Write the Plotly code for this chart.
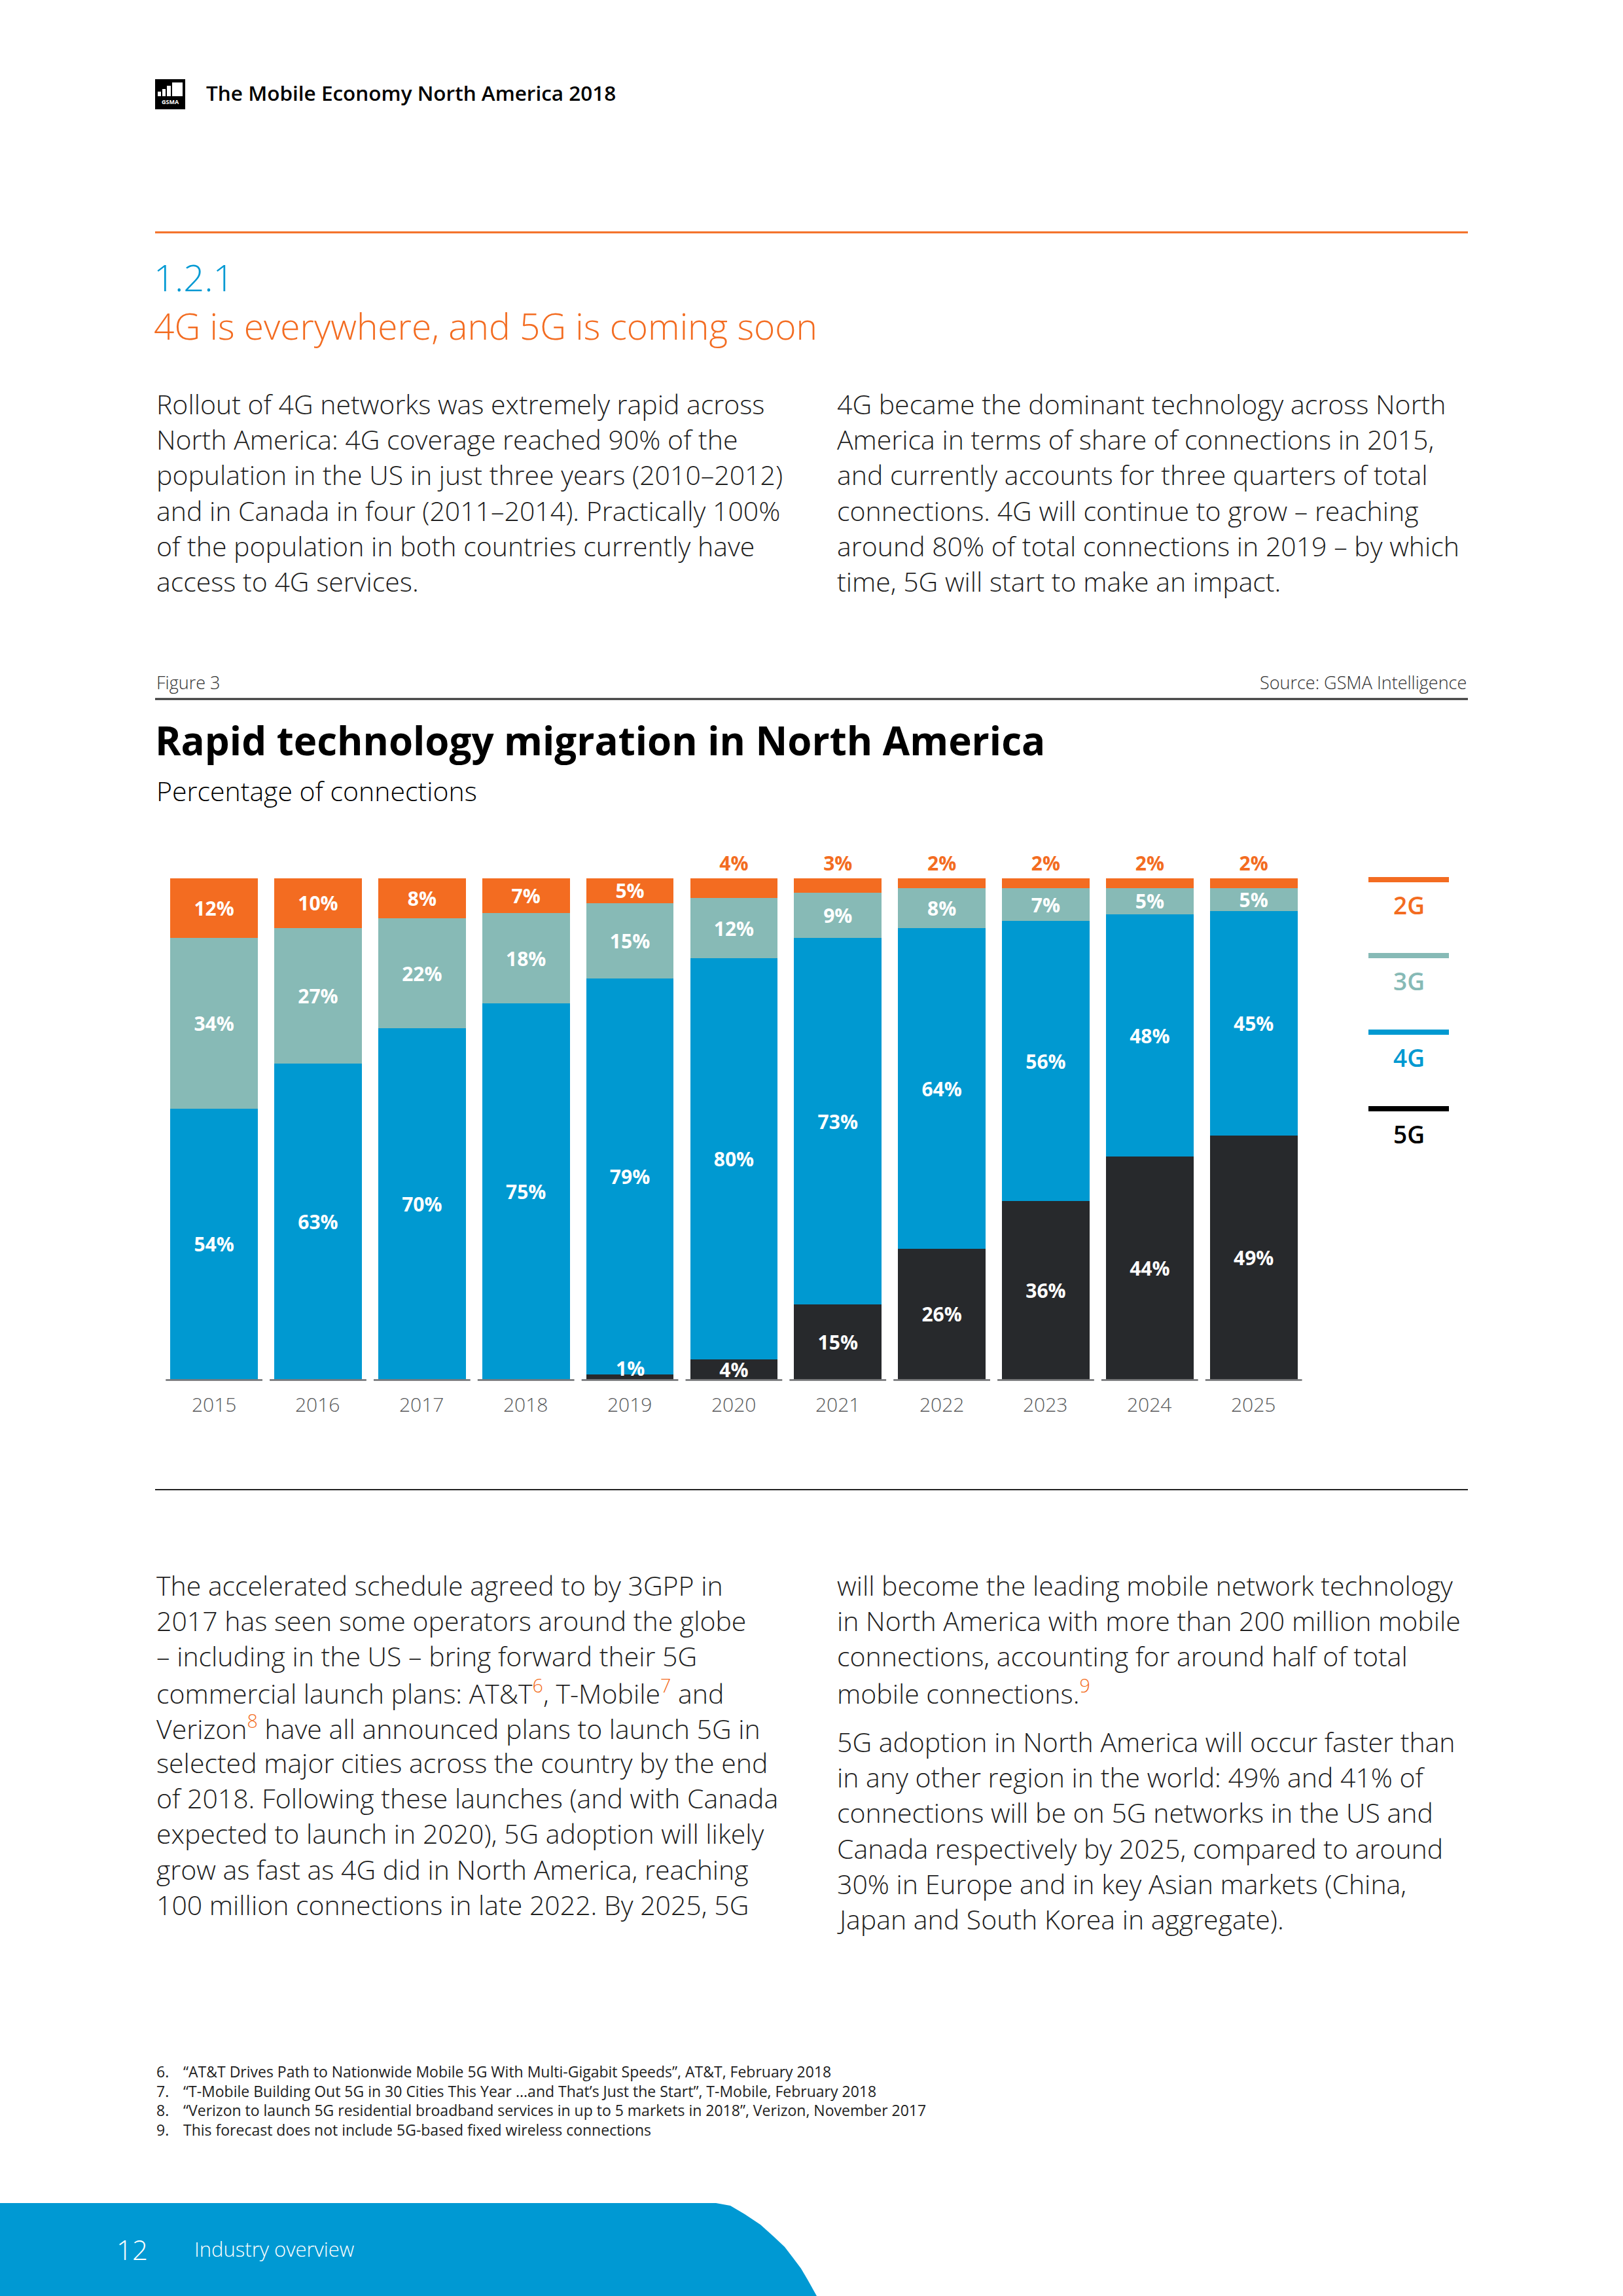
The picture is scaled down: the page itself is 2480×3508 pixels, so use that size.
import plotly.graph_objects as go

W, H = 2480, 3508

# ---------------- data ----------------
years = ["2015", "2016", "2017", "2018", "2019", "2020", "2021", "2022", "2023", "2024", "2025"]
share_2g = [12, 10, 8, 7, 5, 4, 3, 2, 2, 2, 2]
share_3g = [34, 27, 22, 18, 15, 12, 9, 8, 6.6, 5.2, 4.6]
share_4g = [54, 63, 70, 75, 79, 80, 73, 64, 55.8, 48.4, 44.8]
share_5g = [0, 0, 0, 0, 1, 4, 15, 26, 35.6, 44.4, 48.6]
series_names = ["2G", "3G", "4G", "5G"]
bar_colors = ["#F36C21", "#87BAB6", "#0099D1", "#27292C"]
legend_colors = ["#F36C21", "#87BAB6", "#0099D1", "#000000"]

FONT = "Open Sans"


def px_x(x):
    return x / W


def px_y(y):
    return 1 - y / H


fig = go.Figure()

series = [share_5g, share_4g, share_3g, share_2g]
names = ["5G", "4G", "3G", "2G"]
cols = [bar_colors[3], bar_colors[2], bar_colors[1], bar_colors[0]]

for vals, name, col in zip(series, names, cols):
    if name == "2G":
        text = [f"{v:.0f}%" for v in vals]
        pos = ["inside" if v >= 5 else "outside" for v in vals]
    elif name == "5G":
        text = [f"{v:.0f}%" if v >= 3 else "" for v in vals]
        pos = "inside"
    else:
        text = [f"{v:.0f}%" if v > 0 else "" for v in vals]
        pos = "inside"
    fig.add_trace(go.Bar(
        x=years, y=vals, name=name, marker=dict(color=col, line=dict(width=0)),
        text=text, textposition=pos, insidetextanchor="middle", textangle=0,
        constraintext="none", cliponaxis=False,
        insidetextfont=dict(family=FONT, size=30, color="white", weight=700),
        outsidetextfont=dict(family=FONT, size=30, color=bar_colors[0], weight=700),
        showlegend=False, hoverinfo="skip",
    ))

annotations = []
shapes = []

# small 5G labels sitting on the baseline (category axis -> serial index)
for i, v in enumerate(share_5g):
    if 0 < v < 3:
        annotations.append(dict(x=i, y=0, xref="x", yref="y", yanchor="bottom",
                                text=f"{v:.0f}%", showarrow=False, yshift=-5,
                                font=dict(family=FONT, size=30, color="white", weight=700)))

# year labels and baseline segments
for i, yr in enumerate(years):
    annotations.append(dict(x=i, y=px_y(2145), xref="x", yref="paper", yanchor="middle",
                            text=yr, showarrow=False,
                            font=dict(family=FONT, size=30, color="#58595B", weight=300)))
    shapes.append(dict(type="line", xref="x", yref="paper", x0=i - 0.465, x1=i + 0.465,
                       y0=px_y(2108.6), y1=px_y(2108.6),
                       line=dict(color="#6D6E71", width=2.5)))

# legend
leg_line_y = [1344, 1460, 1577, 1694]
for name, col, ly in zip(series_names, legend_colors, leg_line_y):
    shapes.append(dict(type="line", xref="paper", yref="paper", x0=px_x(2091), x1=px_x(2214),
                       y0=px_y(ly), y1=px_y(ly), line=dict(color=col, width=8)))
    annotations.append(dict(x=px_x(2153), y=px_y(ly + 38), xref="paper", yref="paper",
                            xanchor="center", yanchor="middle", text=name, showarrow=False,
                            font=dict(family=FONT, size=37, color=col, weight=600)))


def add_text(text, x, y, size, color="#1E1E1E", weight=300, anchor="left", yanchor="middle"):
    annotations.append(dict(x=px_x(x), y=px_y(y), xref="paper", yref="paper",
                            xanchor=anchor, yanchor=yanchor, text=text, showarrow=False,
                            font=dict(family=FONT, size=size, color=color, weight=weight)))


def add_lines(lines, x, y0, step=54.2, size=41, color="#1E1E1E", weight=300):
    for i, ln in enumerate(lines):
        add_text(ln, x, y0 + i * step, size, color, weight)


# header
shapes.append(dict(type="rect", xref="paper", yref="paper", x0=px_x(237), x1=px_x(283),
                   y0=px_y(121), y1=px_y(167), fillcolor="#000000", line=dict(width=0)))
for (bx0, bx1, by0) in [(241, 246, 140), (248, 253, 136), (255, 261, 131), (263, 279, 126)]:
    shapes.append(dict(type="rect", xref="paper", yref="paper", x0=px_x(bx0), x1=px_x(bx1),
                       y0=px_y(by0), y1=px_y(147), fillcolor="#FFFFFF", line=dict(width=0)))
add_text("GSMA", 260, 155, 9, "#FFFFFF", 700, anchor="center")
add_text("The Mobile Economy North America 2018", 313, 142, 31.5, "#000000", 600)

# orange rule and section heading
shapes.append(dict(type="line", xref="paper", yref="paper", x0=px_x(237), x1=px_x(2243),
                   y0=px_y(355), y1=px_y(355), line=dict(color="#F36C21", width=3)))
add_text("1.2.1", 233, 423, 56, "#0099D3", 300)
add_text("4G is everywhere, and 5G is coming soon", 233, 498, 55, "#F36C21", 300)

# intro paragraphs
add_lines([
    "Rollout of 4G networks was extremely rapid across",
    "North America: 4G coverage reached 90% of the",
    "population in the US in just three years (2010–2012)",
    "and in Canada in four (2011–2014). Practically 100%",
    "of the population in both countries currently have",
    "access to 4G services.",
], 237, 617)
add_lines([
    "4G became the dominant technology across North",
    "America in terms of share of connections in 2015,",
    "and currently accounts for three quarters of total",
    "connections. 4G will continue to grow – reaching",
    "around 80% of total connections in 2019 – by which",
    "time, 5G will start to make an impact.",
], 1277, 617)

# figure header
add_text("Figure 3", 237, 1042, 27, "#333333", 300)
add_text("Source: GSMA Intelligence", 2243, 1042, 27, "#333333", 300, anchor="right")
shapes.append(dict(type="line", xref="paper", yref="paper", x0=px_x(237), x1=px_x(2243),
                   y0=px_y(1068), y1=px_y(1068), line=dict(color="#333333", width=3)))
add_text("Rapid technology migration in North America", 235, 1131, 60, "#000000", 700)
add_text("Percentage of connections", 237, 1208, 41, "#000000", 300)

# bottom rule of figure
shapes.append(dict(type="line", xref="paper", yref="paper", x0=px_x(237), x1=px_x(2243),
                   y0=px_y(2276), y1=px_y(2276), line=dict(color="#222222", width=2)))

sup = lambda n: f"<sup><span style='color:#F36C21'>{n}</span></sup>"

add_lines([
    "The accelerated schedule agreed to by 3GPP in",
    "2017 has seen some operators around the globe",
    "– including in the US – bring forward their 5G",
    f"commercial launch plans: AT&amp;T{sup(6)}, T-Mobile{sup(7)} and",
    f"Verizon{sup(8)} have all announced plans to launch 5G in",
    "selected major cities across the country by the end",
    "of 2018. Following these launches (and with Canada",
    "expected to launch in 2020), 5G adoption will likely",
    "grow as fast as 4G did in North America, reaching",
    "100 million connections in late 2022. By 2025, 5G",
], 237, 2422)
add_lines([
    "will become the leading mobile network technology",
    "in North America with more than 200 million mobile",
    "connections, accounting for around half of total",
    f"mobile connections.{sup(9)}",
], 1277, 2422)
add_lines([
    "5G adoption in North America will occur faster than",
    "in any other region in the world: 49% and 41% of",
    "connections will be on 5G networks in the US and",
    "Canada respectively by 2025, compared to around",
    "30% in Europe and in key Asian markets (China,",
    "Japan and South Korea in aggregate).",
], 1277, 2661)

# footnotes
notes = [
    ("6.", "“AT&amp;T Drives Path to Nationwide Mobile 5G With Multi-Gigabit Speeds”, AT&amp;T, February 2018"),
    ("7.", "“T-Mobile Building Out 5G in 30 Cities This Year ...and That’s Just the Start”, T-Mobile, February 2018"),
    ("8.", "“Verizon to launch 5G residential broadband services in up to 5 markets in 2018”, Verizon, November 2017"),
    ("9.", "This forecast does not include 5G-based fixed wireless connections"),
]
for i, (num, txt) in enumerate(notes):
    yy = 3165 + i * 29.7
    add_text(num, 237, yy, 23, "#1E1E1E", 400)
    add_text(txt, 278, yy, 23, "#1E1E1E", 400)

# footer band
pts = [(1094, 3366), (1116, 3370), (1138, 3383), (1162, 3399), (1182, 3417),
       (1199, 3433), (1212, 3450), (1224, 3466), (1234, 3483), (1248, 3508)]
path = f"M 0,{px_y(3366)} " + " ".join(f"L {px_x(x)},{px_y(y)}" for x, y in pts) + \
       f" L 0,{px_y(3508)} Z"
shapes.append(dict(type="path", xref="paper", yref="paper", path=path,
                   fillcolor="#0099D3", line=dict(width=0), layer="below"))
add_text("12", 176, 3436, 42, "#FFFFFF", 300)
add_text("Industry overview", 295, 3436, 31, "#FFFFFF", 300)

fig.update_layout(
    width=W, height=H, margin=dict(l=0, r=0, t=0, b=0),
    paper_bgcolor="white", plot_bgcolor="white",
    barmode="stack", bargap=0.158,
    xaxis=dict(type="category", range=[-0.5, len(years) - 0.5],
               domain=[247.7 / W, 1995.1 / W], showticklabels=False, showgrid=False,
               zeroline=False, showline=False, ticks="", fixedrange=True),
    yaxis=dict(domain=[px_y(2107.5), px_y(1341.5)], range=[0, 100], visible=False,
               showgrid=False, zeroline=False, fixedrange=True),
    annotations=annotations, shapes=shapes, showlegend=False,
    font=dict(family=FONT),
)

fig.write_html("out.html")
